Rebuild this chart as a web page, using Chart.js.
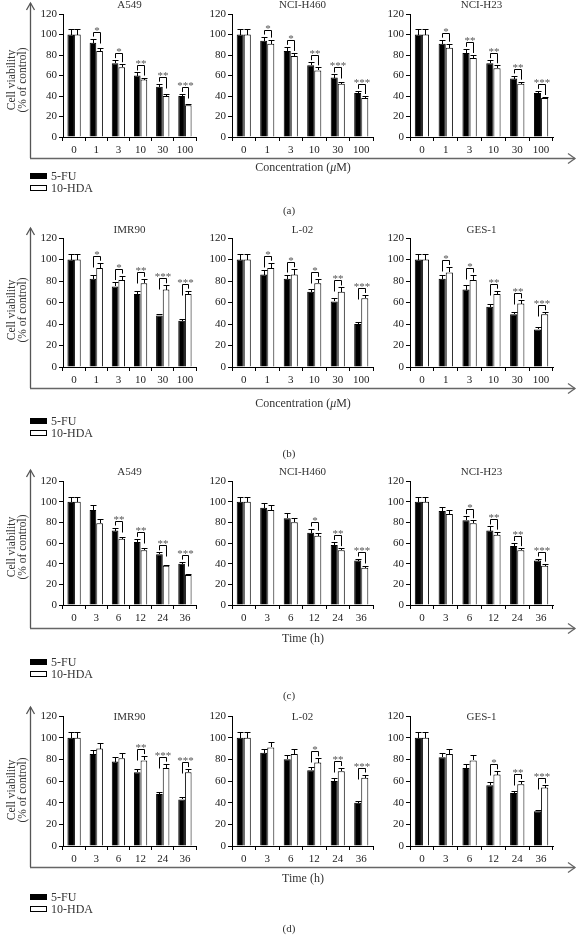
<!DOCTYPE html>
<html><head><meta charset="utf-8">
<script src="https://cdn.jsdelivr.net/npm/chart.js@4/dist/chart.umd.min.js"></script>
<style>
body{margin:0;width:578px;height:941px;background:#fff;position:relative;overflow:hidden;font-family:"Liberation Serif","DejaVu Serif",serif;color:#333}
canvas{position:absolute}
.t{position:absolute;white-space:nowrap;font-size:12px;line-height:12px}
.c{transform:translate(-50%,-50%)}
.yl{position:absolute;width:160px;text-align:center;font-size:11.5px;line-height:11px;transform:translate(-50%,-50%) rotate(-90deg);color:#333}
.sw{position:absolute;width:17px;height:6px;box-sizing:border-box;border:1px solid #000}
svg{position:absolute;left:0;top:0}
</style></head><body>
<svg id="frame" width="578" height="941"></svg>
<script>
// ---------- data ----------
const concLabels = ['0','1','3','10','30','100'];
const timeLabels = ['0','3','6','12','24','36'];
const seriesNames = ['5-FU','10-HDA'];

// (a) concentration, cancer cells
const a_A549_FU = [100,92,72,60,49,40];   const a_A549_FUerr = [5,4,3,3,3,2];
const a_A549_HDA = [100,84,68,56,40,31];  const a_A549_HDAerr = [5,3,3,2,2,1];
const a_A549_sig = ['','*','*','**','**','***'];
const a_H460_FU = [100,94,84,70,58,43];   const a_H460_FUerr = [5,4,4,3,3,2];
const a_H460_HDA = [100,91,79,65,52,38];  const a_H460_HDAerr = [5,4,3,3,2,2];
const a_H460_sig = ['','*','*','**','***','***'];
const a_H23_FU = [100,91,82,72,57,43];    const a_H23_FUerr = [5,4,4,3,3,2];
const a_H23_HDA = [100,87,77,67,52,38];   const a_H23_HDAerr = [5,4,3,3,2,1];
const a_H23_sig = ['','*','**','**','**','***'];
// (b) concentration, normal cells
const b_IMR90_FU = [100,82,75,68,48,43];  const b_IMR90_FUerr = [5,4,4,3,1,2];
const b_IMR90_HDA = [100,92,81,78,72,68]; const b_IMR90_HDAerr = [5,5,4,4,4,3];
const b_IMR90_sig = ['','*','*','**','***','***'];
const b_L02_FU = [100,86,82,70,61,40];    const b_L02_FUerr = [5,4,4,3,3,2];
const b_L02_HDA = [100,92,86,78,70,64];   const b_L02_HDAerr = [5,5,5,4,4,3];
const b_L02_sig = ['','*','*','*','**','***'];
const b_GES1_FU = [100,82,72,56,49,35];   const b_GES1_FUerr = [5,4,4,3,2,2];
const b_GES1_HDA = [100,88,81,68,59,49];  const b_GES1_HDAerr = [5,5,5,3,3,2];
const b_GES1_sig = ['','*','*','**','**','***'];
// (c) time, cancer cells
const c_A549_FU = [100,92,72,61,49,40];   const c_A549_FUerr = [5,5,3,3,2,2];
const c_A549_HDA = [100,79,64,53,38,29];  const c_A549_HDAerr = [5,4,2,2,1,1];
const c_A549_sig = ['','','**','**','**','***'];
const c_H460_FU = [100,94,84,70,58,43];   const c_H460_FUerr = [5,5,5,4,3,2];
const c_H460_HDA = [100,92,80,67,53,36];  const c_H460_HDAerr = [5,5,4,3,2,2];
const c_H460_sig = ['','','','*','**','***'];
const c_H23_FU = [100,91,82,72,57,43];    const c_H23_FUerr = [5,4,4,4,3,2];
const c_H23_HDA = [100,88,79,68,53,38];   const c_H23_HDAerr = [5,4,3,3,2,2];
const c_H23_sig = ['','','*','**','**','***'];
// (d) time, normal cells
const d_IMR90_FU = [100,85,78,68,48,43];  const d_IMR90_FUerr = [5,4,4,3,2,2];
const d_IMR90_HDA = [100,90,81,79,72,68]; const d_IMR90_HDAerr = [5,5,5,4,4,3];
const d_IMR90_sig = ['','','','**','***','***'];
const d_L02_FU = [100,86,80,70,60,40];    const d_L02_FUerr = [5,4,4,3,3,2];
const d_L02_HDA = [100,91,85,77,69,63];   const d_L02_HDAerr = [5,5,5,4,3,3];
const d_L02_sig = ['','','','*','**','***'];
const d_GES1_FU = [100,82,72,56,49,32];   const d_GES1_FUerr = [5,4,4,3,2,1];
const d_GES1_HDA = [100,85,79,66,57,54];  const d_GES1_HDAerr = [5,5,5,3,3,2];
const d_GES1_sig = ['','','','*','**','***'];

// ---------- layout ----------
const cols = [{x:63,w:133},{x:232,w:141},{x:410,w:143}];
const rows = [
  {y120:14, y0:137, titleDy:-9, top:3, base:158, xTitle:'conc', xTitleY:167, leg:176, lab:'(a)', labY:210, ylY:80},
  {y120:238, y0:367, titleDy:-8, top:228, base:388, xTitle:'conc', xTitleY:403, leg:421, lab:'(b)', labY:453, ylY:310},
  {y120:481, y0:605, titleDy:-9, top:470, base:628, xTitle:'time', xTitleY:638, leg:662, lab:'(c)', labY:695, ylY:547},
  {y120:716, y0:846, titleDy:1, top:707, base:867, xTitle:'time', xTitleY:878, leg:897, lab:'(d)', labY:928, ylY:790}
];
const panels = [
  [0,0,'A549',concLabels,a_A549_FU,a_A549_FUerr,a_A549_HDA,a_A549_HDAerr,a_A549_sig],
  [0,1,'NCI-H460',concLabels,a_H460_FU,a_H460_FUerr,a_H460_HDA,a_H460_HDAerr,a_H460_sig],
  [0,2,'NCI-H23',concLabels,a_H23_FU,a_H23_FUerr,a_H23_HDA,a_H23_HDAerr,a_H23_sig],
  [1,0,'IMR90',concLabels,b_IMR90_FU,b_IMR90_FUerr,b_IMR90_HDA,b_IMR90_HDAerr,b_IMR90_sig],
  [1,1,'L-02',concLabels,b_L02_FU,b_L02_FUerr,b_L02_HDA,b_L02_HDAerr,b_L02_sig],
  [1,2,'GES-1',concLabels,b_GES1_FU,b_GES1_FUerr,b_GES1_HDA,b_GES1_HDAerr,b_GES1_sig],
  [2,0,'A549',timeLabels,c_A549_FU,c_A549_FUerr,c_A549_HDA,c_A549_HDAerr,c_A549_sig],
  [2,1,'NCI-H460',timeLabels,c_H460_FU,c_H460_FUerr,c_H460_HDA,c_H460_HDAerr,c_H460_sig],
  [2,2,'NCI-H23',timeLabels,c_H23_FU,c_H23_FUerr,c_H23_HDA,c_H23_HDAerr,c_H23_sig],
  [3,0,'IMR90',timeLabels,d_IMR90_FU,d_IMR90_FUerr,d_IMR90_HDA,d_IMR90_HDAerr,d_IMR90_sig],
  [3,1,'L-02',timeLabels,d_L02_FU,d_L02_FUerr,d_L02_HDA,d_L02_HDAerr,d_L02_sig],
  [3,2,'GES-1',timeLabels,d_GES1_FU,d_GES1_FUerr,d_GES1_HDA,d_GES1_HDAerr,d_GES1_sig]
];

const FONT = '"Liberation Serif", "DejaVu Serif", serif';
const PADT = 18, XH = 24, PADR = 6, YW = 40;

const decoPlugin = {
  id:'deco',
  afterDatasetsDraw(chart, args, opts){
    const ctx = chart.ctx, ys = chart.scales.y, ca = chart.chartArea;
    const m0 = chart.getDatasetMeta(0), m1 = chart.getDatasetMeta(1);
    const d0 = chart.data.datasets[0], d1 = chart.data.datasets[1];
    ctx.save();
    ctx.strokeStyle = '#000'; ctx.lineWidth = 1;
    // error bars
    [[m0,d0],[m1,d1]].forEach(([m,d])=>{
      m.data.forEach((bar,j)=>{
        const x = Math.round(bar.x) + 0.5;
        const yt = Math.round(ys.getPixelForValue(d.data[j] + d.err[j])) + 0.5;
        const yb = Math.round(ys.getPixelForValue(d.data[j]));
        ctx.beginPath();
        ctx.moveTo(x, yb); ctx.lineTo(x, yt);
        ctx.moveTo(x - 3, yt); ctx.lineTo(x + 3, yt);
        ctx.stroke();
      });
    });
    // significance brackets
    const sig = opts.sig;
    ctx.fillStyle = '#555';
    ctx.font = '11px ' + FONT;
    ctx.textAlign = 'center';
    ctx.textBaseline = 'alphabetic';
    sig.forEach((s,j)=>{
      if (!s) return;
      const xL = Math.round(m0.data[j].x) + 0.5, xR = Math.round(m1.data[j].x) + 0.5;
      const tB = ys.getPixelForValue(d0.data[j] + d0.err[j]);
      const tW = ys.getPixelForValue(d1.data[j] + d1.err[j]);
      const yb = Math.round(Math.min(tB, tW) - 7) + 0.5;
      const lL = Math.min(tB - yb - 2, 11), lR = Math.min(tW - yb - 2, 11);
      ctx.beginPath();
      ctx.moveTo(xL, yb + lL); ctx.lineTo(xL, yb); ctx.lineTo(xR, yb); ctx.lineTo(xR, yb + lR);
      ctx.stroke();
      ctx.fillText(s, (xL + xR) / 2, yb + 1);
    });
    // panel title
    ctx.fillStyle = '#333';
    ctx.font = '11px ' + FONT;
    ctx.textBaseline = 'middle';
    ctx.fillText(opts.title, (ca.left + ca.right) / 2 + opts.titleDx, ca.top + opts.titleDy);
    ctx.restore();
  }
};

panels.forEach(p=>{
  const [ri, ci, title, labels, fu, fuErr, hda, hdaErr, sig] = p;
  const r = rows[ri], c = cols[ci];
  const W = YW + c.w + PADR, H = PADT + (r.y0 - r.y120) + XH;
  const cv = document.createElement('canvas');
  cv.width = W; cv.height = H;
  cv.style.left = (c.x - YW) + 'px'; cv.style.top = (r.y120 - PADT) + 'px';
  cv.style.width = W + 'px'; cv.style.height = H + 'px';
  document.body.appendChild(cv);
  new Chart(cv, {
    type:'bar',
    data:{labels, datasets:[
      {label:seriesNames[0], data:fu, err:fuErr, backgroundColor:'#000', borderColor:'#000', borderWidth:1, categoryPercentage:0.6, barPercentage:1},
      {label:seriesNames[1], data:hda, err:hdaErr, backgroundColor:'#fff', borderColor:'#000', borderWidth:1, categoryPercentage:0.6, barPercentage:1}
    ]},
    options:{
      responsive:false, animation:false, devicePixelRatio:1,
      layout:{padding:{top:PADT, right:PADR, left:0, bottom:0}},
      plugins:{legend:{display:false}, tooltip:{enabled:false}, title:{display:false},
        deco:{sig, title, titleDy:r.titleDy, titleDx:0}},
      scales:{
        x:{grid:{display:true, drawOnChartArea:false, drawTicks:true, tickLength:4, color:'#000', offset:true},
           border:{color:'#000', width:1},
           ticks:{color:'#222', font:{family:FONT, size:11}, padding:3, maxRotation:0, autoSkip:false},
           afterFit(s){ s.height = XH; }},
        y:{min:0, max:120,
           grid:{display:true, drawOnChartArea:false, drawTicks:true, tickLength:4, color:'#000'},
           border:{color:'#000', width:1},
           ticks:{stepSize:20, color:'#222', font:{family:FONT, size:11}, padding:2},
           afterFit(s){ s.width = YW; }}
      }
    },
    plugins:[decoPlugin]
  });
});

// ---------- frame, legends, labels ----------
const svg = document.getElementById('frame');
let sv = '';
rows.forEach(r=>{
  sv += `<path d="M30.5 ${r.top} V ${r.base}" stroke="#555" stroke-width="1.3" fill="none"/>`;
  sv += `<path d="M26.5 ${r.top+7} L30.5 ${r.top} L34.5 ${r.top+7}" stroke="#555" stroke-width="1.3" fill="none"/>`;
  sv += `<path d="M30 ${r.base+0.5} H 575" stroke="#666" stroke-width="1.6" fill="none"/>`;
  sv += `<path d="M568 ${r.base-4.5} L575 ${r.base+0.5} L568 ${r.base+5.5}" stroke="#666" stroke-width="1.3" fill="none"/>`;
});
svg.innerHTML = sv;

rows.forEach(r=>{
  const add = (html, cls, x, y, style='')=>{
    const d = document.createElement('div');
    d.className = cls; d.innerHTML = html;
    d.style.left = x + 'px'; d.style.top = y + 'px';
    if (style) d.style.cssText += style;
    document.body.appendChild(d);
  };
  add('Cell viability<br>(% of control)', 'yl', 17, r.ylY);
  add(r.xTitle === 'conc' ? 'Concentration (<i>μ</i>M)' : 'Time (h)', 't c', 303, r.xTitleY);
  add('', 'sw', 30, r.leg - 3, 'background:#000');
  add(seriesNames[0], 't', 51, r.leg - 6);
  add('', 'sw', 30, r.leg + 9, 'background:#fff');
  add(seriesNames[1], 't', 51, r.leg + 6);
  add(r.lab, 't c', 289, r.labY, 'font-size:11px');
});
</script>
</body></html>
